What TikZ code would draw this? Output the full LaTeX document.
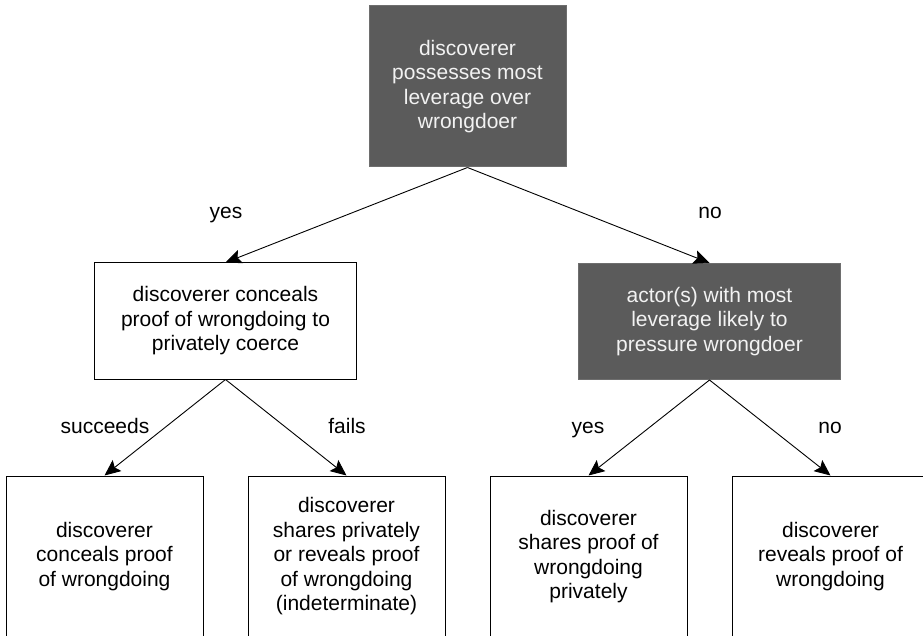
\documentclass[tikz,border=0pt]{standalone}
\usepackage{fontspec}
\setmainfont{Liberation Sans}
\usetikzlibrary{arrows.meta}

\definecolor{boxgray}{RGB}{91,91,91}
\definecolor{edgegray}{RGB}{110,110,110}

\tikzset{
    leaf/.style={draw=black, line width=1pt, align=center, inner sep=0pt,
        minimum width=197pt, minimum height=161pt,
        font=\fontsize{21}{24.5}\selectfont},
    choice/.style={leaf, minimum width=262pt, minimum height=116pt},
    darkbox/.style={fill=boxgray, draw=edgegray, text=white!95!black},
    branch/.style={anchor=base, font=\fontsize{21}{24.5}\selectfont},
    link/.style={line width=0.9pt, -{Stealth[length=16pt,width=14pt,inset=3pt]}}
}

\begin{document}
\begin{tikzpicture}[x=1pt,y=-1pt]
                \path [use as bounding box] (0,0) rectangle (923,636);
                \clip (0,0) rectangle (923,636);
                \node [leaf,darkbox] (lever) at (467.5,86.5) {discoverer\\possesses most\\leverage over\\wrongdoer};
                \node [choice] (conceal) at (225.5,321) {discoverer conceals\\proof of wrongdoing to\\privately coerce};
                \node [choice,darkbox] (pressure) at (709.5,321.5) {actor(s) with most\\leverage likely to\\pressure wrongdoer};
                \node [leaf] (succ) at (104.5,556.5) {discoverer\\conceals proof\\of wrongdoing};
                \node [leaf] (fail) at (346.5,556.5) {discoverer\\shares privately\\or reveals proof\\of wrongdoing\\(indeterminate)};
                \node [leaf] (share) at (588.5,556.5) {discoverer\\shares proof of\\wrongdoing\\privately};
                \node [leaf] (reveal) at (830.5,556.5) {discoverer\\reveals proof of\\wrongdoing};
                \draw [link] (lever.south) -- (conceal.north);
                \draw [link] (lever.south) -- (pressure.north);
                \draw [link] (conceal.south) -- (succ.north);
                \draw [link] (conceal.south) -- (fail.north);
                \draw [link] (pressure.south) -- (share.north);
                \draw [link] (pressure.south) -- (reveal.north);
                \node [branch] (yesa) at (226,219) {yes};
                \node [branch] (noa) at (710,219) {no};
                \node [branch] (succl) at (105,433) {succeeds};
                \node [branch] (faill) at (347,433) {fails};
                \node [branch] (yesb) at (588,433) {yes};
                \node [branch] (nob) at (830,433) {no};
            \end{tikzpicture}
\end{document}
